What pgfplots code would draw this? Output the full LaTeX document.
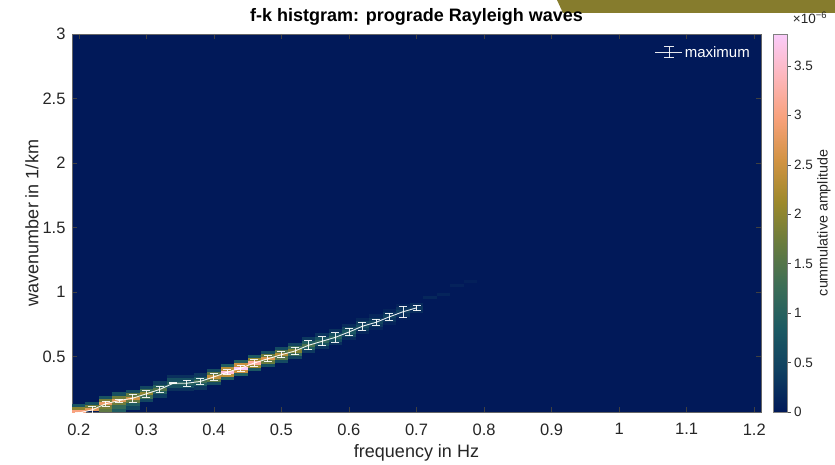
\documentclass[border=0pt]{standalone}
\usepackage{pgfplots}
\pgfplotsset{compat=1.18}
\usepackage{pgfplotstable}
\usepackage{fontspec}
\setmainfont{Liberation Sans}
\definecolor{bgnavy}{RGB}{1,25,89}
\definecolor{olivetab}{RGB}{134,124,45}
\definecolor{txt}{RGB}{38,38,38}
\pgfdeclareplotmark{cell}{\pgfpathrectangle{\pgfpoint{-6.8pt}{-1.65pt}}{\pgfpoint{13.6pt}{3.3pt}}\pgfusepathqfill}

\pgfplotstableread{
f k v
0.20 0.070 3.00
0.20 0.095 1.95
0.20 0.120 0.75
0.22 0.062 1.76
0.22 0.087 2.70
0.22 0.112 1.76
0.22 0.137 0.68
0.24 0.084 1.60
0.24 0.109 1.82
0.24 0.134 2.80
0.24 0.159 1.82
0.24 0.184 0.70
0.26 0.084 0.90
0.26 0.109 1.20
0.26 0.134 1.76
0.26 0.159 2.70
0.26 0.184 1.76
0.26 0.209 0.68
0.28 0.102 0.50
0.28 0.127 0.90
0.28 0.152 1.63
0.28 0.177 2.50
0.28 0.202 1.63
0.28 0.227 0.63
0.30 0.161 0.50
0.30 0.186 1.30
0.30 0.211 2.00
0.30 0.236 1.30
0.30 0.261 0.50
0.32 0.195 0.38
0.32 0.220 0.98
0.32 0.245 1.50
0.32 0.270 0.98
0.32 0.295 0.38
0.34 0.243 0.25
0.34 0.268 0.65
0.34 0.293 1.00
0.34 0.318 0.65
0.34 0.343 0.25
0.36 0.243 0.25
0.36 0.268 0.65
0.36 0.293 1.00
0.36 0.318 0.65
0.36 0.343 0.25
0.38 0.257 0.33
0.38 0.282 0.85
0.38 0.307 1.30
0.38 0.332 0.85
0.38 0.357 0.33
0.40 0.292 0.60
0.40 0.317 1.56
0.40 0.342 2.40
0.40 0.367 1.56
0.40 0.392 0.60
0.42 0.329 0.90
0.42 0.354 2.34
0.42 0.379 3.60
0.42 0.404 2.34
0.42 0.429 0.90
0.44 0.360 0.95
0.44 0.385 2.47
0.44 0.410 3.80
0.44 0.435 2.47
0.44 0.460 0.95
0.46 0.400 0.80
0.46 0.425 2.08
0.46 0.450 3.20
0.46 0.475 2.08
0.46 0.500 0.80
0.48 0.433 0.65
0.48 0.458 1.69
0.48 0.483 2.60
0.48 0.508 1.69
0.48 0.533 0.65
0.50 0.464 0.58
0.50 0.489 1.50
0.50 0.514 2.30
0.50 0.539 1.50
0.50 0.564 0.58
0.52 0.493 0.48
0.52 0.518 1.24
0.52 0.543 1.90
0.52 0.568 1.24
0.52 0.593 0.48
0.54 0.537 0.35
0.54 0.562 0.91
0.54 0.587 1.40
0.54 0.612 0.91
0.54 0.637 0.35
0.56 0.568 0.28
0.56 0.593 0.72
0.56 0.618 1.10
0.56 0.643 0.72
0.56 0.668 0.28
0.58 0.599 0.25
0.58 0.624 0.65
0.58 0.649 1.00
0.58 0.674 0.65
0.58 0.699 0.25
0.60 0.640 0.20
0.60 0.665 0.52
0.60 0.690 0.80
0.60 0.715 0.52
0.60 0.740 0.20
0.62 0.685 0.15
0.62 0.710 0.39
0.62 0.735 0.60
0.62 0.760 0.39
0.62 0.785 0.15
0.64 0.715 0.13
0.64 0.740 0.33
0.64 0.765 0.50
0.64 0.790 0.33
0.64 0.815 0.13
0.66 0.758 0.11
0.66 0.783 0.29
0.66 0.808 0.45
0.66 0.833 0.29
0.66 0.858 0.11
0.68 0.797 0.10
0.68 0.822 0.26
0.68 0.847 0.40
0.68 0.872 0.26
0.68 0.897 0.10
0.70 0.852 0.20
0.70 0.877 0.30
0.70 0.902 0.20
0.72 0.960 0.15
0.74 0.980 0.12
0.76 1.050 0.10
0.78 1.080 0.08
}\cells

\pgfplotstableread{
f k e
0.20 0.062 0.005
0.22 0.087 0.026
0.24 0.134 0.018
0.26 0.159 0.012
0.28 0.177 0.032
0.30 0.211 0.024
0.32 0.245 0.020
0.34 0.293 0.004
0.36 0.293 0.024
0.38 0.307 0.020
0.40 0.342 0.026
0.42 0.379 0.020
0.44 0.410 0.025
0.46 0.450 0.025
0.48 0.483 0.024
0.50 0.514 0.024
0.52 0.543 0.030
0.54 0.587 0.035
0.56 0.618 0.035
0.58 0.649 0.037
0.60 0.690 0.030
0.62 0.735 0.030
0.64 0.765 0.024
0.66 0.808 0.026
0.68 0.847 0.045
0.70 0.877 0.022
}\maxima

\begin{document}
\begin{tikzpicture}
\path[use as bounding box] (0,0) rectangle (835pt,464pt);
\fill[olivetab] (557pt,464pt) -- (835pt,464pt) -- (835pt,451pt) -- (563pt,451pt) -- cycle;
\begin{axis}[
  at={(72pt,52pt)}, anchor=south west,
  scale only axis, width=689pt, height=378pt,
  xmin=0.19, xmax=1.21, ymin=0.07, ymax=3,
  axis background/.style={fill=bgnavy},
  clip marker paths=true,
  colormap={batlow}{rgb255=(1,25,89) rgb255=(16,64,96) rgb255=(28,90,98) rgb255=(60,109,86) rgb255=(104,123,62) rgb255=(157,137,43) rgb255=(210,147,67) rgb255=(248,161,123) rgb255=(253,183,188) rgb255=(250,204,250)},
  point meta min=0, point meta max=3.82,
  xtick={0.2,0.3,0.4,0.5,0.6,0.7,0.8,0.9,1,1.1,1.2},
  xticklabels={0.2,0.3,0.4,0.5,0.6,0.7,0.8,0.9,1,1.1,1.2},
  ytick={0.5,1,1.5,2,2.5,3},
  yticklabels={0.5,1,1.5,2,2.5,3},
  tick align=inside,
  major tick length=5pt,
  tick style={black!75, line width=0.5pt},
  axis line style={draw=black!60, line width=0.6pt},
  tick label style={font=\fontsize{16.5}{18}\selectfont, text=txt},
  xticklabel style={yshift=-8pt},
  yticklabel style={xshift=-3pt},
  xlabel={frequency in Hz},
  ylabel={wavenumber in 1/km},
  xlabel style={at={(axis description cs:0.5,-0.108)}, anchor=center, font=\fontsize{18}{20}\selectfont, text=txt},
  ylabel style={at={(axis description cs:-0.058,0.5)}, anchor=center, font=\fontsize{18}{20}\selectfont, text=txt},
  title={f-k histgram: prograde Rayleigh waves},
  title style={at={(axis description cs:0.5,1.045)}, anchor=center, yshift=-6pt, font=\bfseries\fontsize{18}{20}\selectfont, text=black},
  legend style={at={(1,1)}, anchor=north east, xshift=-6pt, yshift=-8pt, draw=none, fill=none, text=white, font=\fontsize{15}{17}\selectfont},
  legend cell align=left,
  colorbar,
  colorbar style={
    at={(parent axis.north east)}, anchor=north west, xshift=4pt,
    scale only axis, width=14pt, height=378pt,
    ytick={0,0.5,1,1.5,2,2.5,3,3.5},
    yticklabels={0,0.5,1,1.5,2,2.5,3,3.5},
    yticklabel style={font=\fontsize{13.5}{15}\selectfont, text=txt},
    ytick pos=right,
    tick align=outside,
    major tick length=3pt,
    tick style={black!70},
    axis line style={draw=gray},
    every axis y label/.style={at={(axis description cs:3.6,0.5)}, rotate=90, anchor=center, font=\fontsize{14.3}{16}\selectfont, text=txt},
    ylabel={cummulative amplitude},
  },
]
\addplot[scatter, only marks, mark=cell, point meta=explicit, forget plot]
  table[x=f, y=k, meta=v] {\cells};
\addplot[white, opacity=0.9, line width=0.9pt, mark=none,
  legend image code/.code={
    \draw[white, line width=0.8pt] (0pt,0pt) -- (27pt,0pt);
    \draw[white, line width=0.8pt] (13.5pt,-5.5pt) -- (13.5pt,5.5pt);
    \draw[white, line width=0.8pt] (8.5pt,-5.5pt) -- (18.5pt,-5.5pt);
    \draw[white, line width=0.8pt] (8.5pt,5.5pt) -- (18.5pt,5.5pt);},
  error bars/.cd, y dir=both, y explicit,
  error bar style={white, line width=0.8pt},
  error mark options={white, rotate=90, mark size=4pt, line width=0.8pt}]
  table[x=f, y=k, y error=e] {\maxima};
\addlegendentry{maximum}
\end{axis}
\node[font=\fontsize{13.5}{15}\selectfont, text=txt] at (810pt,446pt) {×10\textsuperscript{−6}};
\end{tikzpicture}
\end{document}
